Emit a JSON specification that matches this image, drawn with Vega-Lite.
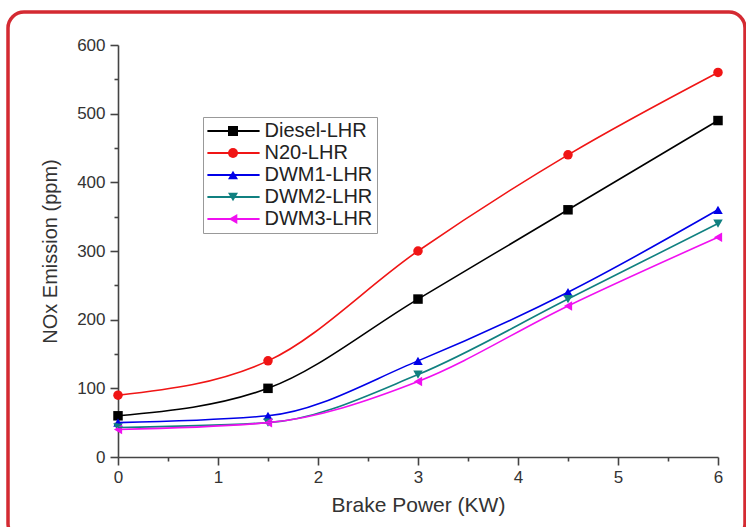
{
  "$schema": "https://vega.github.io/schema/vega-lite/v6.json",
  "width": 600,
  "height": 412,
  "autosize": {"type": "none"},
  "padding": {"left": 118, "top": 45, "right": 28, "bottom": 70},
  "background": "white",
  "config": {"view": {"stroke": null}, "font": "Liberation Sans"},
  "data": {"values": [
    {"x": 0, "y": 60, "s": "Diesel-LHR"},
    {"x": 1.5, "y": 100, "s": "Diesel-LHR"},
    {"x": 3, "y": 230, "s": "Diesel-LHR"},
    {"x": 4.5, "y": 360, "s": "Diesel-LHR"},
    {"x": 6, "y": 490, "s": "Diesel-LHR"},
    {"x": 0, "y": 90, "s": "N20-LHR"},
    {"x": 1.5, "y": 140, "s": "N20-LHR"},
    {"x": 3, "y": 300, "s": "N20-LHR"},
    {"x": 4.5, "y": 440, "s": "N20-LHR"},
    {"x": 6, "y": 560, "s": "N20-LHR"},
    {"x": 0, "y": 50, "s": "DWM1-LHR"},
    {"x": 1.5, "y": 60, "s": "DWM1-LHR"},
    {"x": 3, "y": 140, "s": "DWM1-LHR"},
    {"x": 4.5, "y": 240, "s": "DWM1-LHR"},
    {"x": 6, "y": 360, "s": "DWM1-LHR"},
    {"x": 0, "y": 43, "s": "DWM2-LHR"},
    {"x": 1.5, "y": 50, "s": "DWM2-LHR"},
    {"x": 3, "y": 120, "s": "DWM2-LHR"},
    {"x": 4.5, "y": 230, "s": "DWM2-LHR"},
    {"x": 6, "y": 340, "s": "DWM2-LHR"},
    {"x": 0, "y": 40, "s": "DWM3-LHR"},
    {"x": 1.5, "y": 50, "s": "DWM3-LHR"},
    {"x": 3, "y": 110, "s": "DWM3-LHR"},
    {"x": 4.5, "y": 220, "s": "DWM3-LHR"},
    {"x": 6, "y": 320, "s": "DWM3-LHR"}
  ]},
  "resolve": {"axis": {"x": "independent", "y": "independent"}},
  "layer": [
    {
      "data": {"values": [{}]},
      "mark": {"type": "rect", "fill": null, "stroke": "#d42a32", "strokeWidth": 3.5, "cornerRadius": 16, "clip": false},
      "encoding": {
        "x": {"datum": -1.1, "type": "quantitative", "axis": null},
        "x2": {"datum": 6.27},
        "y": {"datum": 648, "type": "quantitative", "axis": null},
        "y2": {"datum": -120}
      }
    },
    {
      "mark": {"type": "point", "filled": true, "size": 90, "opacity": 1, "clip": false},
      "encoding": {
        "x": {"field": "x", "type": "quantitative", "scale": {"domain": [0, 6], "nice": false},
          "axis": {"orient": "bottom", "values": [0.5, 1.5, 2.5, 3.5, 4.5, 5.5], "labels": false, "title": null, "domain": false, "grid": false,
            "tickColor": "#444", "tickWidth": 1.6, "tickSize": 4}},
        "y": {"field": "y", "type": "quantitative", "scale": {"domain": [0, 600], "nice": false},
          "axis": {"orient": "left", "values": [50, 150, 250, 350, 450, 550], "labels": false, "title": null, "domain": false, "grid": false,
            "tickColor": "#444", "tickWidth": 1.6, "tickSize": 4}},
        "color": {"field": "s", "type": "nominal",
          "scale": {"domain": ["Diesel-LHR", "N20-LHR", "DWM1-LHR", "DWM2-LHR", "DWM3-LHR"],
            "range": ["#000000", "#f01515", "#0000e8", "#108080", "#f010f0"]},
          "legend": {"orient": "top-left", "offset": 72, "title": null,
            "symbolSize": 100, "symbolOffset": 29, "labelOffset": 21, "labelFontSize": 20, "labelOpacity": 0,
            "rowPadding": 2, "padding": 4, "zindex": 1}},
        "shape": {"field": "s", "type": "nominal",
          "scale": {"domain": ["Diesel-LHR", "N20-LHR", "DWM1-LHR", "DWM2-LHR", "DWM3-LHR"],
            "range": ["square", "circle", "triangle-up", "triangle-down", "triangle-left"]},
          "legend": {"orient": "top-left", "offset": 72, "title": null,
            "symbolSize": 100, "symbolOffset": 29, "labelOffset": 21, "labelFontSize": 20, "labelOpacity": 0,
            "rowPadding": 2, "padding": 4, "zindex": 1}}
      }
    },
    {
      "mark": {"type": "line", "interpolate": "monotone", "strokeWidth": 1.6},
      "encoding": {
        "x": {"field": "x", "type": "quantitative",
          "axis": {"orient": "bottom", "values": [0, 1, 2, 3, 4, 5, 6], "title": "Brake Power (KW)", "grid": false,
            "domainColor": "#444", "domainWidth": 1.6, "tickColor": "#444", "tickWidth": 1.6, "tickSize": 8,
            "labelFontSize": 17, "labelColor": "#333", "labelPadding": 4, "labelFlush": false,
            "titleFontSize": 21, "titleFontWeight": "normal", "titleColor": "#333", "titlePadding": 9}},
        "y": {"field": "y", "type": "quantitative",
          "axis": {"orient": "left", "values": [0, 100, 200, 300, 400, 500, 600], "title": "NOx Emission (ppm)", "grid": false,
            "domainColor": "#444", "domainWidth": 1.6, "tickColor": "#444", "tickWidth": 1.6, "tickSize": 8,
            "labelFontSize": 17, "labelColor": "#333", "labelPadding": 5, "labelFlush": false,
            "titleFontSize": 20, "titleFontWeight": "normal", "titleColor": "#333", "titlePadding": 16}},
        "stroke": {"field": "s", "type": "nominal",
          "scale": {"domain": ["Diesel-LHR", "N20-LHR", "DWM1-LHR", "DWM2-LHR", "DWM3-LHR"],
            "range": ["#000000", "#f01515", "#0000e8", "#108080", "#f010f0"]},
          "legend": {"orient": "none", "legendX": 85, "legendY": 72, "title": null,
            "symbolType": "M-5.8,0H5.8", "symbolSize": 81, "symbolOffset": 16.5, "symbolStrokeWidth": 1.8,
            "labelOffset": 21, "labelFontSize": 20, "labelColor": "#222", "rowPadding": 2, "padding": 4,
            "strokeColor": "#999", "fillColor": "white", "zindex": 0}}
      }
    }
  ]
}
